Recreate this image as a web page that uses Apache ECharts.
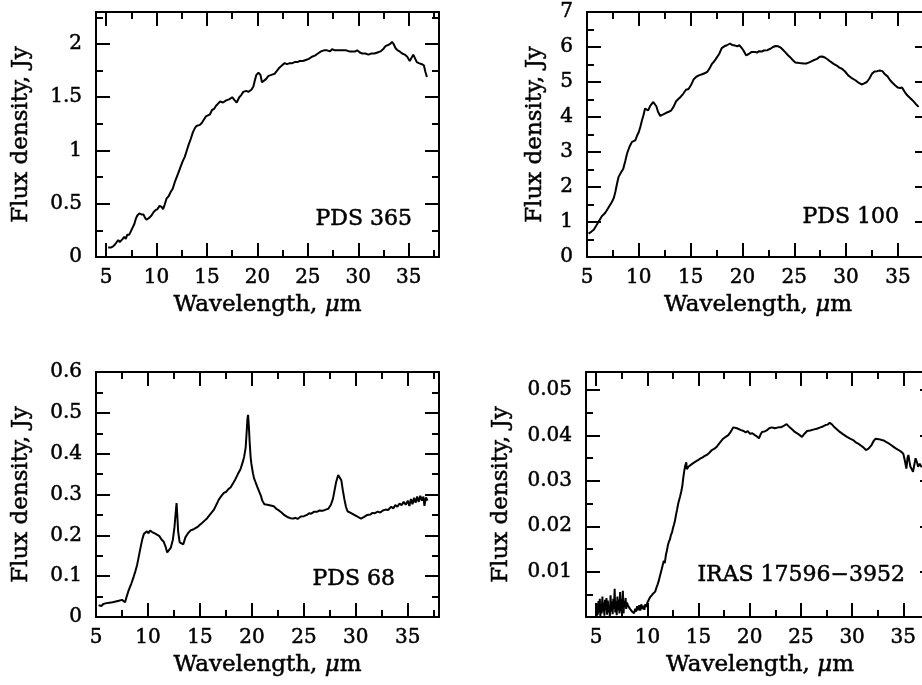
<!DOCTYPE html>
<html>
<head>
<meta charset="utf-8">
<script src="https://cdn.jsdelivr.net/npm/echarts@6/dist/echarts.min.js"></script>
<style>
  html, body { margin: 0; background: #fff; }
  #chart { width: 922px; height: 685px; }
</style>
</head>
<body>
<div id="chart"></div>
<script>
// spectra: [wavelength (um), flux density (Jy)]
const pds365 = [
  [5.2,0.09],[5.5,0.09],[5.7,0.1],[5.9,0.12],[6.05,0.11],[6.2,0.16],[6.35,0.14],[6.5,0.14],[6.65,0.17],[6.8,0.19],
  [6.95,0.17],[7.1,0.21],[7.3,0.21],[7.5,0.25],[7.65,0.28],[7.8,0.31],[7.95,0.36],[8.1,0.39],[8.3,0.41],[8.5,0.4],
  [8.7,0.4],[8.85,0.37],[9.0,0.35],[9.15,0.35],[9.3,0.37],[9.5,0.39],[9.7,0.42],[9.9,0.44],[10.1,0.45],[10.3,0.48],
  [10.5,0.47],[10.65,0.45],[10.8,0.49],[11.0,0.55],[11.2,0.57],[11.4,0.61],[11.6,0.64],[11.8,0.7],[12.0,0.75],[12.2,0.8],
  [12.4,0.85],[12.6,0.9],[12.8,0.94],[13.0,1.0],[13.2,1.06],[13.4,1.11],[13.6,1.17],[13.8,1.21],[13.95,1.23],[14.1,1.23],
  [14.3,1.24],[14.5,1.26],[14.7,1.29],[14.9,1.32],[15.1,1.33],[15.3,1.34],[15.5,1.38],[15.7,1.39],[15.9,1.42],[16.1,1.44],
  [16.3,1.46],[16.6,1.45],[16.9,1.47],[17.2,1.48],[17.5,1.5],[17.75,1.47],[17.95,1.45],[18.2,1.5],[18.4,1.52],[18.6,1.55],
  [18.9,1.56],[19.1,1.55],[19.4,1.57],[19.6,1.6],[19.75,1.66],[19.9,1.71],[20.1,1.73],[20.3,1.71],[20.45,1.64],[20.6,1.63],
  [20.85,1.67],[21.1,1.7],[21.4,1.71],[21.7,1.72],[21.95,1.75],[22.2,1.78],[22.45,1.8],[22.7,1.82],[22.95,1.81],[23.2,1.82],
  [23.45,1.82],[23.7,1.83],[23.95,1.83],[24.2,1.84],[24.5,1.84],[24.8,1.85],[25.1,1.86],[25.4,1.88],[25.7,1.89],[26.0,1.91],
  [26.3,1.93],[26.6,1.94],[26.9,1.94],[27.2,1.93],[27.4,1.95],[27.7,1.94],[28.0,1.94],[28.4,1.94],[28.8,1.94],[29.1,1.93],
  [29.4,1.93],[29.7,1.93],[29.9,1.94],[30.15,1.92],[30.4,1.91],[30.7,1.91],[31.0,1.9],[31.3,1.91],[31.6,1.91],[31.9,1.92],
  [32.2,1.93],[32.45,1.95],[32.7,1.98],[32.95,1.99],[33.15,2.0],[33.35,2.02],[33.5,2.0],[33.7,1.96],[33.9,1.94],[34.1,1.93],
  [34.35,1.91],[34.6,1.9],[34.85,1.88],[35.1,1.84],[35.25,1.83],[35.45,1.9],[35.6,1.89],[35.8,1.83],[36.0,1.82],[36.3,1.81],
  [36.5,1.8],[36.65,1.74],[36.8,1.69]
]

const pds100 = [
  [5.15,0.67],[5.4,0.72],[5.65,0.78],[5.9,0.9],[6.1,1.0],[6.3,1.1],[6.45,1.17],[6.7,1.24],[6.9,1.33],[7.15,1.45],
  [7.4,1.57],[7.6,1.7],[7.75,1.88],[7.9,2.1],[8.05,2.29],[8.25,2.4],[8.5,2.52],[8.7,2.75],[8.86,2.95],[9.1,3.15],
  [9.34,3.29],[9.5,3.3],[9.66,3.33],[9.85,3.48],[10.0,3.57],[10.15,3.72],[10.3,3.9],[10.45,4.05],[10.6,4.24],[10.75,4.27],
  [10.9,4.19],[11.1,4.32],[11.4,4.43],[11.55,4.4],[11.7,4.3],[11.85,4.15],[12.07,4.03],[12.25,4.02],[12.4,4.08],[12.65,4.12],
  [12.9,4.15],[13.1,4.18],[13.35,4.29],[13.6,4.45],[13.84,4.52],[14.05,4.58],[14.3,4.67],[14.55,4.78],[14.8,4.8],[15.05,4.92],
  [15.3,5.08],[15.55,5.15],[15.8,5.19],[16.1,5.22],[16.35,5.25],[16.6,5.29],[16.85,5.4],[17.06,5.52],[17.3,5.6],[17.5,5.69],
  [17.75,5.8],[18.0,5.97],[18.25,6.02],[18.5,6.05],[18.8,6.1],[19.0,6.06],[19.3,6.04],[19.5,6.02],[19.7,6.05],[19.9,5.98],
  [20.1,5.9],[20.35,5.76],[20.6,5.8],[20.9,5.86],[21.2,5.86],[21.4,5.84],[21.6,5.88],[21.85,5.87],[22.05,5.9],[22.4,5.91],
  [22.7,5.95],[22.95,6.0],[23.2,6.03],[23.45,6.02],[23.7,5.98],[23.9,5.92],[24.1,5.86],[24.35,5.78],[24.6,5.71],[24.85,5.63],
  [25.1,5.56],[25.5,5.54],[25.9,5.53],[26.2,5.53],[26.5,5.57],[26.85,5.62],[27.2,5.66],[27.45,5.72],[27.7,5.73],[27.95,5.7],
  [28.2,5.65],[28.5,5.58],[28.8,5.52],[29.1,5.47],[29.35,5.41],[29.6,5.38],[29.9,5.3],[30.2,5.19],[30.5,5.12],[30.9,5.05],
  [31.2,4.98],[31.5,4.93],[31.75,4.96],[32.0,5.0],[32.25,5.1],[32.5,5.24],[32.75,5.3],[33.0,5.31],[33.25,5.33],[33.5,5.31],
  [33.75,5.22],[34.0,5.16],[34.25,5.05],[34.5,4.97],[34.75,4.9],[35.0,4.84],[35.2,4.83],[35.4,4.84],[35.65,4.72],[35.9,4.62],
  [36.15,4.55],[36.4,4.48],[36.7,4.38],[37.0,4.29]
]

const pds68 = [
  [5.25,0.029],[5.4,0.031],[5.55,0.027],[5.7,0.032],[5.85,0.029],[6.0,0.034],[6.15,0.03],[6.3,0.035],[6.45,0.031],[6.6,0.036],
  [6.75,0.033],[6.9,0.038],[7.05,0.035],[7.2,0.04],[7.35,0.037],[7.5,0.042],[7.65,0.044],[7.8,0.036],[7.95,0.05],[8.15,0.066],
  [8.4,0.082],[8.63,0.099],[8.8,0.113],[8.95,0.127],[9.1,0.146],[9.27,0.168],[9.45,0.19],[9.6,0.203],[9.75,0.207],[9.9,0.21],
  [10.05,0.205],[10.2,0.212],[10.4,0.208],[10.55,0.211],[10.7,0.204],[10.9,0.201],[11.1,0.198],[11.3,0.19],[11.5,0.185],[11.7,0.172],
  [11.85,0.158],[12.0,0.162],[12.2,0.17],[12.4,0.19],[12.55,0.22],[12.65,0.25],[12.75,0.279],[12.82,0.25],[12.9,0.21],[13.05,0.183],
  [13.2,0.18],[13.4,0.178],[13.6,0.195],[13.85,0.205],[14.1,0.212],[14.4,0.215],[14.74,0.22],[15.0,0.226],[15.2,0.23],[15.45,0.236],
  [15.7,0.242],[16.0,0.252],[16.35,0.263],[16.6,0.276],[16.8,0.287],[17.05,0.296],[17.3,0.304],[17.5,0.306],[17.7,0.312],[17.96,0.318],
  [18.2,0.328],[18.4,0.337],[18.65,0.35],[18.9,0.362],[19.1,0.378],[19.25,0.392],[19.4,0.415],[19.5,0.455],[19.57,0.485],[19.63,0.495],
  [19.7,0.47],[19.78,0.43],[19.88,0.39],[19.95,0.375],[20.1,0.352],[20.2,0.34],[20.35,0.33],[20.5,0.32],[20.7,0.307],[20.85,0.298],
  [21.0,0.285],[21.2,0.276],[21.5,0.275],[21.8,0.273],[22.1,0.271],[22.35,0.265],[22.6,0.261],[22.85,0.256],[23.1,0.25],[23.4,0.245],
  [23.7,0.242],[24.0,0.241],[24.2,0.243],[24.4,0.24],[24.7,0.246],[25.0,0.247],[25.3,0.25],[25.5,0.254],[25.7,0.253],[26.0,0.258],
  [26.3,0.258],[26.5,0.261],[26.8,0.26],[27.1,0.263],[27.35,0.265],[27.6,0.275],[27.8,0.29],[27.95,0.31],[28.1,0.33],[28.3,0.348],
  [28.45,0.345],[28.6,0.335],[28.75,0.31],[28.9,0.288],[29.05,0.27],[29.2,0.259],[29.5,0.255],[29.85,0.25],[30.2,0.245],[30.5,0.241],
  [30.8,0.245],[31.1,0.25],[31.4,0.251],[31.6,0.255],[31.8,0.254],[32.1,0.258],[32.35,0.256],[32.6,0.261],[32.85,0.263],[33.1,0.262],
  [33.4,0.27],[33.6,0.266],[33.8,0.274],[34.0,0.27],[34.2,0.278],[34.4,0.274],[34.6,0.282],[34.8,0.275],[35.0,0.285],[35.15,0.272],
  [35.3,0.289],[35.45,0.276],[35.6,0.292],[35.75,0.28],[35.9,0.295],[36.05,0.282],[36.2,0.297],[36.35,0.285],[36.5,0.295],[36.6,0.272],
  [36.75,0.293],[36.9,0.285]
]

const iras17596 = [
  [5.05,0.0],[5.1,0.003],[5.15,0.0005],[5.22,0.0035],[5.28,0.001],[5.35,0.004],[5.4,0.0002],[5.47,0.0028],[5.53,0.0008],[5.6,0.0045],
  [5.66,0.0012],[5.72,0.0032],[5.8,0.0003],[5.86,0.0038],[5.93,0.0015],[6.0,0.0042],[6.06,0.0005],[6.13,0.0036],[6.2,0.001],[6.27,0.0025],
  [6.33,0.0002],[6.4,0.0048],[6.47,0.0012],[6.53,0.0034],[6.6,0.0006],[6.67,0.004],[6.73,0.0018],[6.8,0.0062],[6.86,0.001],[6.93,0.0035],
  [7.0,0.0004],[7.07,0.0045],[7.13,0.0015],[7.2,0.0038],[7.27,0.0008],[7.33,0.0055],[7.4,0.0012],[7.47,0.004],[7.53,0.0016],[7.6,0.0058],
  [7.67,0.0008],[7.73,0.0035],[7.8,0.0022],[7.87,0.0042],[7.93,0.0018],[8.0,0.0032],[8.1,0.0025],[8.2,0.0028],[8.3,0.0018],[8.4,0.0022],
  [8.5,0.0012],[8.6,0.0016],[8.7,0.0008],[8.8,0.0018],[8.9,0.0012],[9.0,0.0024],[9.1,0.0015],[9.2,0.0026],[9.3,0.0014],[9.4,0.0028],
  [9.5,0.0018],[9.6,0.0025],[9.7,0.0016],[9.8,0.0028],[9.9,0.0022],[10.0,0.0032],[10.27,0.0044],[10.5,0.005],[10.76,0.0056],[10.9,0.0066],
  [11.0,0.0072],[11.1,0.0079],[11.2,0.0088],[11.3,0.0092],[11.4,0.0106],[11.5,0.0108],[11.6,0.0124],[11.7,0.0119],[11.8,0.0136],[11.9,0.0146],
  [12.0,0.0158],[12.1,0.0166],[12.2,0.0171],[12.3,0.0181],[12.4,0.0186],[12.5,0.0196],[12.6,0.0204],[12.7,0.0213],[12.8,0.0226],[12.9,0.0237],
  [13.0,0.0249],[13.1,0.0258],[13.2,0.0266],[13.3,0.0276],[13.4,0.0287],[13.5,0.0306],[13.6,0.0322],[13.7,0.0334],[13.8,0.0341],[13.85,0.0326],
  [14.0,0.0331],[14.18,0.0335],[14.4,0.0338],[14.66,0.0342],[14.9,0.0345],[15.15,0.0349],[15.4,0.0352],[15.6,0.0355],[15.8,0.0357],[16.05,0.0362],
  [16.3,0.0368],[16.55,0.0371],[16.8,0.0376],[17.1,0.0385],[17.4,0.0393],[17.65,0.0397],[17.9,0.0401],[18.1,0.0407],[18.24,0.0412],[18.4,0.0418],
  [18.57,0.042],[18.75,0.0416],[18.9,0.0415],[19.15,0.0412],[19.4,0.041],[19.6,0.0407],[19.8,0.041],[20.0,0.0404],[20.25,0.0405],[20.5,0.0401],
  [20.7,0.0398],[20.9,0.0394],[21.05,0.0402],[21.2,0.0408],[21.45,0.0409],[21.7,0.0412],[21.9,0.0416],[22.15,0.0418],[22.45,0.0416],[22.8,0.0418],
  [23.05,0.0418],[23.3,0.0421],[23.6,0.0425],[23.75,0.0423],[23.9,0.0418],[24.15,0.0413],[24.4,0.0408],[24.75,0.0403],[25.1,0.0397],[25.35,0.0404],
  [25.6,0.041],[25.9,0.0411],[26.2,0.0413],[26.55,0.0415],[26.9,0.0418],[27.15,0.042],[27.4,0.0423],[27.6,0.0424],[27.8,0.0428],[28.0,0.0425],
  [28.2,0.042],[28.5,0.0414],[28.8,0.0408],[29.1,0.0403],[29.5,0.0397],[29.8,0.0393],[30.1,0.039],[30.35,0.0385],[30.6,0.0382],[30.85,0.0378],
  [31.1,0.0374],[31.35,0.0368],[31.6,0.0371],[31.9,0.0379],[32.1,0.0388],[32.3,0.0393],[32.6,0.0392],[32.9,0.039],[33.1,0.0389],[33.3,0.0386],
  [33.55,0.0383],[33.8,0.0379],[34.05,0.0375],[34.3,0.0371],[34.55,0.0368],[34.8,0.0364],[35.0,0.036],[35.15,0.0345],[35.3,0.0327],[35.42,0.0352],
  [35.5,0.0357],[35.6,0.0343],[35.7,0.0331],[35.82,0.0326],[35.95,0.032],[36.1,0.0338],[36.2,0.035],[36.35,0.034],[36.45,0.0331],[36.6,0.0338],
  [36.8,0.033]
]

// tick values
const waveTicks = [5, 10, 15, 20, 25, 30, 35]
const waveMinor = [7.5, 12.5, 17.5, 22.5, 27.5, 32.5, 37.5]
const pds365Ticks = [0, 0.5, 1, 1.5, 2]
const pds365Minor = [0.25, 0.75, 1.25, 1.75, 2.25]
const pds100Ticks = [0, 1, 2, 3, 4, 5, 6, 7]
const pds100Minor = [0.5, 1.5, 2.5, 3.5, 4.5, 5.5, 6.5]
const pds68Ticks = [0, 0.1, 0.2, 0.3, 0.4, 0.5, 0.6]
const pds68Minor = [0.05, 0.15, 0.25, 0.35, 0.45, 0.55]
const irasTicks = [0.01, 0.02, 0.03, 0.04, 0.05]
const irasMinor = [0.005, 0.015, 0.025, 0.035, 0.045]

const panels = [
  { data: pds365, tag: 'PDS 365', xMin: 4, yMax: 2.3, yTicks: pds365Ticks, yMinor: pds365Minor,
    box: { left: 96, top: 12, width: 343, height: 245 }, yGap: 63, tagX: 412, tagY: 230 },
  { data: pds100, tag: 'PDS 100', xMin: 5, yMax: 7, yTicks: pds100Ticks, yMinor: pds100Minor,
    box: { left: 587, top: 12, width: 342, height: 245 }, yGap: 40, tagX: 899, tagY: 228 },
  { data: pds68, tag: 'PDS 68', xMin: 5, yMax: 0.6, yTicks: pds68Ticks, yMinor: pds68Minor,
    box: { left: 96, top: 372, width: 343, height: 245 }, yGap: 63, tagX: 395, tagY: 590 },
  { data: iras17596, tag: 'IRAS 17596\u22123952', xMin: 4, yMax: 0.054, yTicks: irasTicks, yMinor: irasMinor,
    box: { left: 586, top: 372, width: 348, height: 245 }, yGap: 73, tagX: 905, tagY: 586 }
]

const FONT = 'DejaVu Serif'
const black = '#000'
const tickStyle = { color: black, width: 2 }
// a thin outline makes the glyphs as heavy as the plotted lettering
const heavy = { textBorderColor: black, textBorderWidth: 0.5 }

function axisPair(dim, g, min, max, pos, major, minor, withLabels, name, nameGap) {
  const main = {
    gridIndex: g, type: 'value', min: min, max: max, position: pos,
    splitLine: { show: false },
    axisLine: { show: true, onZero: false, lineStyle: { color: black, width: 2 } },
    axisTick: { show: true, inside: true, length: 14, customValues: major, lineStyle: tickStyle },
    axisLabel: withLabels
      ? Object.assign({ show: true, customValues: major, margin: dim === 'x' ? 11 : 14, color: black, fontFamily: FONT, fontSize: 20 }, heavy)
      : { show: false }
  }
  if (withLabels) {
    main.name = name
    main.nameLocation = 'middle'
    main.nameGap = nameGap
    main.nameTextStyle = Object.assign({
      color: black, fontFamily: FONT, fontSize: 23,
      rich: { i: Object.assign({ fontFamily: FONT, fontSize: 23, fontStyle: 'italic', color: black }, heavy) }
    }, heavy)
  }
  const small = {
    gridIndex: g, type: 'value', min: min, max: max, position: pos,
    splitLine: { show: false },
    axisLine: { show: false, onZero: false },
    axisTick: { show: true, inside: true, length: 7, customValues: minor, lineStyle: tickStyle },
    axisLabel: { show: false }
  }
  return [main, small]
}

const grid = [], xAxis = [], yAxis = [], series = [], graphic = []
panels.forEach((p, g) => {
  grid.push(Object.assign({ outerBoundsMode: 'none', containLabel: false }, p.box))
  xAxis.push(...axisPair('x', g, p.xMin, 38, 'bottom', waveTicks, waveMinor, true, 'Wavelength, {i|\u03bc}m', 37))
  xAxis.push(...axisPair('x', g, p.xMin, 38, 'top', waveTicks, waveMinor, false))
  yAxis.push(...axisPair('y', g, 0, p.yMax, 'left', p.yTicks, p.yMinor, true, 'Flux density, Jy', p.yGap))
  yAxis.push(...axisPair('y', g, 0, p.yMax, 'right', p.yTicks, p.yMinor, false))
  series.push({
    type: 'line', xAxisIndex: g * 4, yAxisIndex: g * 4, data: p.data,
    showSymbol: false, symbol: 'none', clip: true,
    lineStyle: { color: black, width: 2 }
  })
  graphic.push({
    type: 'text', x: p.tagX, y: p.tagY,
    style: { text: p.tag, font: '22px "DejaVu Serif"', fill: black, stroke: black, lineWidth: 0.5, align: 'right', verticalAlign: 'bottom' }
  })
})

const chart = echarts.init(document.getElementById('chart'))
chart.setOption({
  animation: false,
  backgroundColor: '#fff',
  grid: grid,
  xAxis: xAxis,
  yAxis: yAxis,
  series: series,
  graphic: graphic
})
</script>
</body>
</html>
